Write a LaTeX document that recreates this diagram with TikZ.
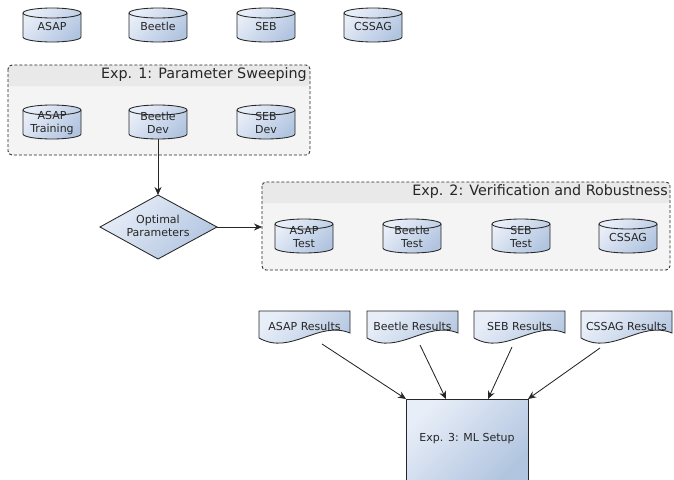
\documentclass[tikz,border=0pt]{standalone}
\usepackage{fontspec}
\setmainfont{DejaVu Sans}
\usetikzlibrary{shapes.geometric,arrows.meta,calc}
\definecolor{cL}{HTML}{E8EEF8}
\definecolor{cD}{HTML}{B2C5E0}
\definecolor{ln}{HTML}{262626}
\definecolor{grpbg}{HTML}{F4F4F4}
\definecolor{grphd}{HTML}{E9E9E9}
\tikzset{
  grad/.style={top color=cL, bottom color=cD, shading angle=45},
  ol/.style={draw=ln, line width=0.85pt},
  arr/.style={draw=ln, line width=0.85pt, -{Stealth[length=8pt,width=7pt]}},
  lbl/.style={font=\fontsize{11}{13}\selectfont, align=center, inner sep=0pt, text=black!85},
  grptitle/.style={font=\fontsize{14.3}{16}\selectfont, inner sep=0pt, text=black!85, anchor=east},
  docshape/.style={font=\fontsize{11}{13}\selectfont, inner sep=0pt, text=black!85},
}
% cylinder: name, cx, cy (negative), text
\newcommand\dbcyl[4]{%
  \path[grad] (#2-29,#3-12) arc (180:360:29 and 5) -- (#2+29,#3+12) arc (0:180:29 and 5) -- cycle;
  \draw[ol] (#2-29,#3-12) arc (180:360:29 and 5) -- (#2+29,#3+12) arc (0:180:29 and 5) -- cycle;
  \draw[ol] (#2-29,#3+12) arc (180:360:29 and 5);
  \node[lbl] (#1) at (#2,#3-1) {#4};
}
% document: name, x0, ytop(neg), width, text
\newcommand\docnode[5]{%
  \path[grad] (#2,#3) -- (#2+#4,#3) -- (#2+#4,#3-22) .. controls (#2+0.65*#4,#3-9) and (#2+0.35*#4,#3-45) .. (#2,#3-27) -- cycle;
  \draw[ol] (#2,#3) -- (#2+#4,#3) -- (#2+#4,#3-22) .. controls (#2+0.65*#4,#3-9) and (#2+0.35*#4,#3-45) .. (#2,#3-27) -- cycle;
  \node[docshape] (#1) at (#2+0.5*#4,#3-15) {#5};
}
% group box: x0, ytop, x1, ybot, yhdr
\newcommand\grpbox[5]{%
  \fill[grpbg, rounded corners=4pt] (#1,#2) rectangle (#3,#4);
  \fill[grphd, rounded corners=4pt] (#1,#5) |- (#3,#2) -- (#3,#5) [sharp corners] -- cycle;
  \draw[ln, line width=0.85pt, dash pattern=on 3pt off 2pt, rounded corners=4pt] (#1,#2) rectangle (#3,#4);
}
\begin{document}
\begin{tikzpicture}[x=1pt,y=1pt]
\useasboundingbox (0,0) rectangle (674,-479);
% top data sets
\dbcyl{asap}{52}{-25}{ASAP}
\dbcyl{beetle}{158}{-25}{Beetle}
\dbcyl{seb}{266}{-25}{SEB}
\dbcyl{cssag}{373}{-25}{CSSAG}
% Exp 1
\grpbox{8}{-65}{310}{-155}{-86}
\node[grptitle] (t1) at (307,-75) {Exp. 1: Parameter Sweeping};
\dbcyl{asaptr}{52}{-122}{ASAP\\Training}
\dbcyl{beetledev}{158}{-122}{Beetle\\Dev}
\dbcyl{sebdev}{266}{-122}{SEB\\Dev}
% diamond
\shade[grad] (100,-227) -- (158,-195) -- (217,-227) -- (158,-259) -- cycle;
\draw[ol] (100,-227) -- (158,-195) -- (217,-227) -- (158,-259) -- cycle;
\node[lbl, font=\fontsize{11}{13.5}\selectfont] (opt) at (158,-226) {Optimal\\Parameters};
\coordinate (optN) at (158,-195);
\coordinate (optE) at (217,-227);
% Exp 2
\grpbox{262}{-182}{670}{-270}{-203}
\node[grptitle] (t2) at (668,-192) {Exp. 2: Verification and Robustness};
\coordinate (g2W) at (262,-227);
\dbcyl{asapte}{304}{-236}{ASAP\\Test}
\dbcyl{beetlete}{412}{-236}{Beetle\\Test}
\dbcyl{sebte}{521}{-236}{SEB\\Test}
\dbcyl{cssagte}{628}{-236}{CSSAG}
% arrows
\draw[arr] (beetledev.south |- 0,-139) -- (optN);
\draw[arr] (optE) -- (g2W);
% results
\docnode{r1}{259}{-311}{91}{ASAP Results}
\docnode{r2}{367}{-311}{91}{Beetle Results}
\docnode{r3}{474}{-311}{91}{SEB Results}
\docnode{r4}{581}{-311}{91}{CSSAG Results}
% ML setup
\shade[grad] (406,-399) rectangle (528,-481);
\draw[ol] (406,-481) -- (406,-399) -- (528,-399) -- (528,-481);
\node[lbl] (ml) at (467,-439) {Exp. 3: ML Setup};
\coordinate (m1) at (406,-399);
\coordinate (m2) at (446,-399);
\coordinate (m3) at (488,-399);
\coordinate (m4) at (528,-399);
\draw[arr] (322,-344) -- (m1);
\draw[arr] (420,-345) -- (m2);
\draw[arr] (512,-347) -- (m3);
\draw[arr] (600,-348) -- (m4);
\end{tikzpicture}
\end{document}
